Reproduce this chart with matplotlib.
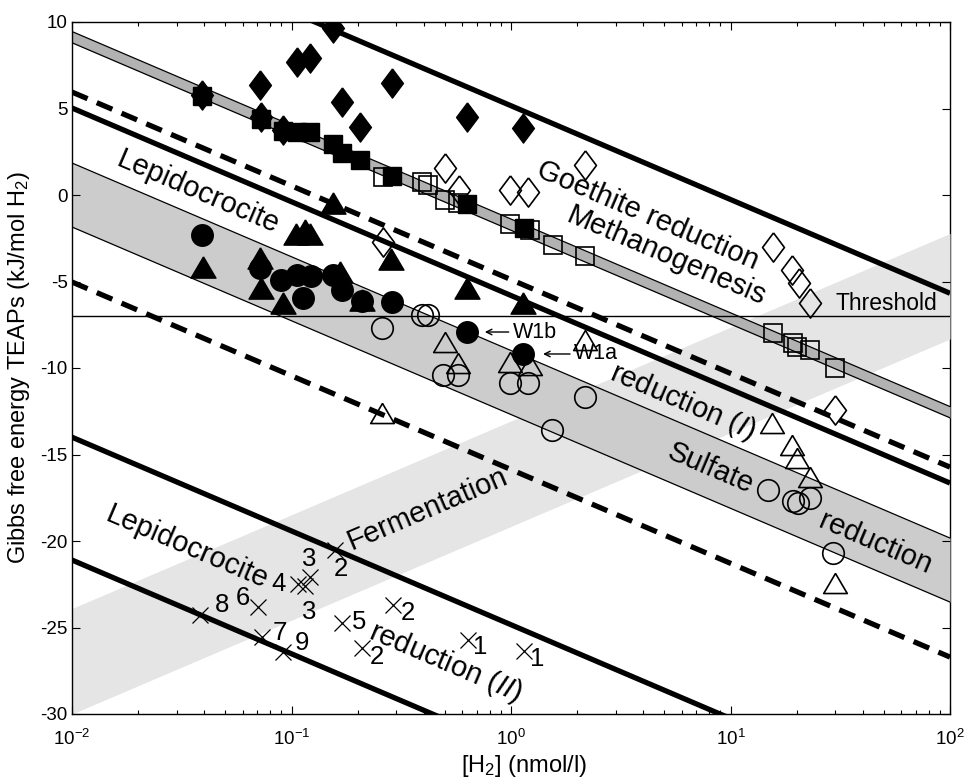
import numpy as np
import matplotlib
matplotlib.use("Agg")
import matplotlib.pyplot as plt
from matplotlib.ticker import LogLocator, MultipleLocator, NullFormatter

plt.rcParams['font.family'] = ['Liberation Sans', 'DejaVu Sans']
plt.rcParams['mathtext.fontset'] = 'custom'
plt.rcParams['mathtext.rm'] = 'Liberation Sans'
plt.rcParams['mathtext.it'] = 'Liberation Sans:italic'
plt.rcParams['mathtext.default'] = 'regular'
plt.rcParams['axes.unicode_minus'] = False

# ---- reaction lines: dG (kJ/mol H2) at [H2] = 1 nmol/l, change per decade of H2 ----
slope = 5.42
goethite_line = 5.16
methano_band = (-2.04, -1.39)
methano_dashed = -4.89
lepido1_line = -5.81
sulfate_band = (-12.69, -8.99)
lepido_dashed = -15.87
lepido2_upper = -24.84
lepido2_lower = -31.94
ferment_band = (-19.16, -13.06)   # rises with H2
threshold = -7.0
h2_range = [1e-2, 1e2]

# ---- measured sites ----
h2_diamond_f = [0.039, 0.072, 0.073, 0.091, 0.106, 0.121, 0.155, 0.17, 0.206, 0.287, 0.63, 1.13]
dg_diamond_f = [5.8, 6.36, 4.5, 3.76, 7.69, 7.92, 9.65, 5.38, 3.93, 6.47, 4.51, 3.87]

h2_square_f = [0.039, 0.073, 0.091, 0.106, 0.121, 0.155, 0.17, 0.205, 0.287, 0.63, 1.15]
dg_square_f = [5.7, 4.4, 3.7, 3.64, 3.64, 2.95, 2.43, 2.02, 1.1, -0.52, -1.9]

h2_square_o = [0.26, 0.394, 0.42, 0.50, 0.575, 0.99, 1.22, 1.56, 2.17, 15.6, 19.3, 20.1, 23.0, 29.9]
dg_square_o = [1.04, 0.75, 0.58, -0.29, -0.46, -1.68, -2.0, -2.9, -3.5, -7.98, -8.55, -8.8, -8.96, -10.0]

h2_diamond_o = [0.26, 0.50, 0.58, 0.99, 1.2, 2.17, 15.6, 19.1, 20.5, 23.0, 29.9]
dg_diamond_o = [-2.7, 1.56, 0.29, 0.29, 0.17, 1.73, -3.0, -4.34, -5.1, -6.24, -12.4]

h2_tri_f = [0.0395, 0.072, 0.073, 0.091, 0.105, 0.115, 0.122, 0.155, 0.166, 0.21, 0.285, 0.63, 1.13]
dg_tri_f = [-4.16, -3.65, -5.4, -6.24, -2.25, -2.05, -2.25, -0.46, -4.45, -6.07, -3.7, -5.38, -6.24]

h2_circ_f = [0.039, 0.072, 0.090, 0.106, 0.123, 0.113, 0.155, 0.17, 0.21, 0.286, 0.63, 1.13]
dg_circ_f = [-2.3, -4.2, -4.9, -4.6, -4.7, -5.95, -4.6, -5.5, -6.1, -6.2, -7.9, -9.2]

h2_circ_o = [0.258, 0.394, 0.42, 0.49, 0.575, 0.99, 1.2, 2.17, 1.54, 14.8, 19.3, 20.4, 23.0, 29.3]
dg_circ_o = [-7.69, -6.94, -6.94, -10.4, -10.4, -10.87, -10.87, -11.68, -13.6, -17.05, -17.7, -17.8, -17.5, -20.7]

h2_tri_o = [0.50, 0.575, 0.99, 1.22, 2.17, 0.258, 15.5, 19.1, 20.1, 23.0, 29.9]
dg_tri_o = [-8.5, -9.7, -9.65, -9.83, -8.4, -12.6, -13.2, -14.45, -15.2, -16.3, -22.4]

# lepidocrocite-reduction cultures (labelled by experiment number)
h2_cross = [0.0383, 0.0703, 0.0733, 0.0912, 0.107, 0.121, 0.115, 0.158, 0.29, 0.170, 0.209, 0.637, 1.146]
dg_cross = [-24.28, -23.8, -25.55, -26.4, -22.5, -22.1, -22.6, -20.5, -23.7, -24.74, -26.2, -25.7, -26.36]
cross_labels = ['8', '6', '7', '9', '4', '3', '3', '2', '2', '5', '2', '1', '1']
cross_label_offsets = [(16, 7), (-11, 6.5), (13, 3), (14, 6.5), (-14, 0), (0, 13),
                       (3, -19), (4, -14), (11, -6), (12, 0.7), (11, -6.5), (9, -5), (9.5, -6)]

# ---- figure ----
fig = plt.figure(figsize=(9.73, 7.79), dpi=100)
ax = fig.add_axes([72 / 973, 1 - 714 / 779, 878 / 973, 692 / 779])
ax.set_xscale('log')
ax.set_xlim(1e-2, 1e2)
ax.set_ylim(-30, 10)

x = np.array(h2_range)
lx = np.log10(x)


def fall(v):
    return v - slope * lx


def rise(v):
    return v + slope * lx


# fermentation band (drawn over the right frame edge)
ax.fill_between(x, rise(ferment_band[0]), rise(ferment_band[1]), color='#e5e5e5', lw=0, zorder=1)
ax.spines['right'].set_zorder(0.9)

# sulfate reduction band
ax.fill_between(x, fall(sulfate_band[0]), fall(sulfate_band[1]), color='#cccccc', lw=0, zorder=1.5)
for v in sulfate_band:
    ax.plot(x, fall(v), color='black', lw=0.9, zorder=1.6)

# methanogenesis band
ax.fill_between(x, fall(methano_band[0]), fall(methano_band[1]), color='#b2b2b2', lw=0, zorder=1.5)
for v in methano_band:
    ax.plot(x, fall(v), color='black', lw=0.9, zorder=1.6)

thick = 3.8
ax.plot(x, fall(goethite_line), color='black', lw=thick, solid_capstyle='butt', zorder=2)
ax.plot(x, fall(lepido1_line), color='black', lw=thick, solid_capstyle='butt', zorder=2)
ax.plot(x, fall(lepido2_upper), color='black', lw=thick, solid_capstyle='butt', zorder=2)
ax.plot(x, fall(lepido2_lower), color='black', lw=thick, solid_capstyle='butt', zorder=2)
for v in (methano_dashed, lepido_dashed):
    ax.plot(x, fall(v), color='black', lw=thick, dashes=(3.2, 1.9), dash_capstyle='butt', zorder=2)

ax.axhline(threshold, color='black', lw=1.0, zorder=2)

# marker shapes
diamond = [(0, 1), (0.75, 0), (0, -1), (-0.75, 0), (0, 1)]
triangle = [(0, 0.85), (1, -0.85), (-1, -0.85), (0, 0.85)]

kf = dict(ls='none', color='black', zorder=4)
ko = dict(ls='none', mfc='none', mec='black', mew=1.2, zorder=3.5)
ax.plot(h2_diamond_f, dg_diamond_f, marker=diamond, ms=21, **kf)
ax.plot(h2_square_f, dg_square_f, marker='s', ms=13, **kf)
ax.plot(h2_tri_f, dg_tri_f, marker=triangle, ms=18, **kf)
ax.plot(h2_circ_f, dg_circ_f, marker='o', ms=15.5, **kf)
ax.plot(h2_diamond_o, dg_diamond_o, marker=diamond, ms=21, **ko)
ax.plot(h2_square_o, dg_square_o, marker='s', ms=12.5, **ko)
ax.plot(h2_tri_o, dg_tri_o, marker=triangle, ms=17, **ko)
ax.plot(h2_circ_o, dg_circ_o, marker='o', ms=15.5, **ko)
ax.plot(h2_cross, dg_cross, marker='x', ms=12, ls='none', color='black', mew=0.9, zorder=4)
for xc, yc, lab, off in zip(h2_cross, dg_cross, cross_labels, cross_label_offsets):
    ax.annotate(lab, (xc, yc), xytext=off, textcoords='offset points',
                ha='center', va='center', fontsize=18.5, zorder=5)

# W1a / W1b markers
arrow = dict(arrowstyle='->', lw=1.0, color='black', shrinkA=1, shrinkB=0,
             mutation_scale=10)
ax.annotate('W1b', xy=(0.76, -7.92), xytext=(1.02, -7.92), ha='left', va='center',
            fontsize=15.5, arrowprops=arrow, zorder=5)
ax.annotate('W1a', xy=(1.40, -9.19), xytext=(1.94, -9.19), ha='left', va='center',
            fontsize=15.5, arrowprops=arrow, zorder=5)


def line_angle(s):
    p0 = ax.transData.transform((1.0, 0.0))
    p1 = ax.transData.transform((10.0, s))
    return np.degrees(np.arctan2(p1[1] - p0[1], p1[0] - p0[0]))


down = line_angle(-slope)
up = line_angle(slope)
big = 21
tk = dict(ha='center', va='center', rotation_mode='anchor', fontsize=big, zorder=5)
ax.text(4.21, -1.16, 'Goethite reduction', rotation=down, **tk)
ax.text(5.08, -3.53, 'Methanogenesis', rotation=down, **tk)
ax.text(0.0375, 0.17, 'Lepidocrocite', rotation=down, **tk)
ax.text(6.08, -11.97, r'reduction $\mathit{(I)}$', rotation=down, **tk)
ax.text(8.07, -15.78, 'Sulfate', rotation=down, **tk)
ax.text(45.5, -20.1, 'reduction', rotation=down, **tk)
ax.text(0.414, -18.15, 'Fermentation', rotation=up, **tk)
ax.text(0.0334, -20.35, 'Lepidocrocite', rotation=down, **tk)
ax.text(0.506, -27.0, r'reduction $\mathit{(II)}$', rotation=down, **tk)
ax.text(51.1, -6.3, 'Threshold', ha='center', va='center', fontsize=16.5, zorder=5)

# axes styling
ax.xaxis.set_major_locator(LogLocator(base=10, numticks=10))
ax.xaxis.set_minor_locator(LogLocator(base=10, subs=np.arange(2, 10), numticks=20))
ax.xaxis.set_minor_formatter(NullFormatter())
ax.yaxis.set_major_locator(MultipleLocator(5))
ax.tick_params(which='both', direction='in', top=True, right=True, width=0.8, labelsize=13.5)
ax.tick_params(which='major', length=6)
ax.tick_params(which='minor', length=3)
ax.tick_params(axis='x', pad=11)
ax.tick_params(axis='y', pad=3)
for sp in ax.spines.values():
    sp.set_linewidth(1.0)

ax.set_xlabel('[H$_2$] (nmol/l)', fontsize=17)
ax.set_ylabel('Gibbs free energy TEAPs (kJ/mol H$_2$)', fontsize=17)
ax.xaxis.set_label_coords(0.515, -0.057)
ax.yaxis.set_label_coords(-0.045, 0.5)

fig.savefig('out.png', dpi=100)
